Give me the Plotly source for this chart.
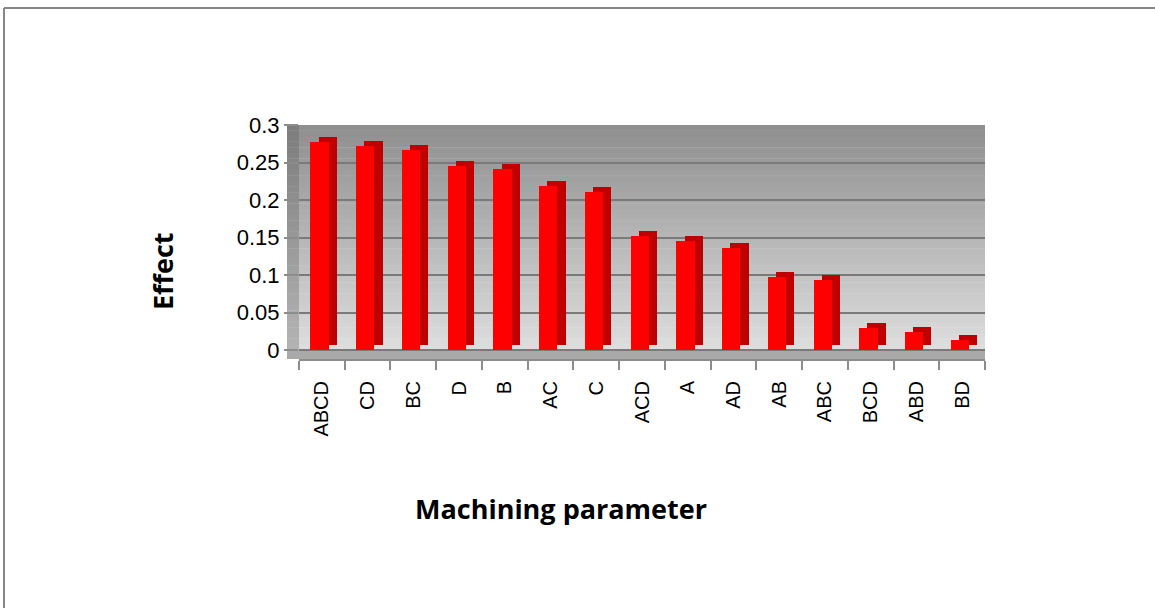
import plotly.graph_objects as go

# ---------------- data ----------------
categories = ["ABCD", "CD", "BC", "D", "B", "AC", "C", "ACD", "A", "AD",
              "AB", "ABC", "BCD", "ABD", "BD"]
effects = [0.277, 0.272, 0.267, 0.246, 0.241, 0.219, 0.211, 0.152, 0.146,
           0.136, 0.097, 0.094, 0.029, 0.024, 0.013]
y_tick_vals = [0, 0.05, 0.1, 0.15, 0.2, 0.25, 0.3]
y_tick_text = ["0", "0.05", "0.1", "0.15", "0.2", "0.25", "0.3"]
x_title = "Machining parameter"
y_title = "Effect"

# ---------------- layout geometry (pixels) ----------------
W, H = 1155, 608
L, R = 299, 985          # plot area left/right
T, B = 125, 359          # plot area top/bottom
Y_MIN, Y_MAX = -0.012, 0.3
PX_PER_UNIT = (B - T) / (Y_MAX - Y_MIN)
DEPTH = 5 / PX_PER_UNIT  # vertical depth of the pseudo-3D top face


def px_x(px):
    return (px - L) / (R - L)


def px_y(py):
    return (B - py) / (B - T)


def hexmix(c1, c2, t):
    a = [int(c1[i:i + 2], 16) for i in (1, 3, 5)]
    b = [int(c2[i:i + 2], 16) for i in (1, 3, 5)]
    return "#" + "".join(f"{round(a[k] + (b[k] - a[k]) * t):02x}" for k in range(3))


fig = go.Figure()

# side (depth) of the bars
fig.add_trace(go.Bar(
    x=categories, y=effects, base=DEPTH,
    offset=-0.07, width=0.4,
    marker=dict(color="#c00000", line=dict(width=0)),
    hoverinfo="skip", showlegend=False,
))
# front face of the bars
fig.add_trace(go.Bar(
    x=categories, y=effects,
    offset=-0.25, width=0.4,
    marker=dict(color="#ff0000", line=dict(width=0)),
    name=y_title, showlegend=False,
))

shapes = []
# back wall gradient (light at bottom, darker at top)
N = 40
for k in range(N):
    y0 = Y_MAX * k / N
    y1 = Y_MAX * (k + 1) / N
    shapes.append(dict(type="rect", xref="paper", yref="y", layer="below",
                       x0=0, x1=1, y0=y0, y1=y1 + 0.0005,
                       fillcolor=hexmix("#dedede", "#8e8e8e", (k + 0.5) / N),
                       line=dict(width=0)))
# left side wall
for k in range(N):
    y0 = Y_MAX * k / N
    y1 = Y_MAX * (k + 1) / N
    shapes.append(dict(type="rect", xref="paper", yref="y", layer="below",
                       x0=px_x(L - 12), x1=0, y0=y0, y1=y1 + 0.0005,
                       fillcolor=hexmix("#b4b4b4", "#7c7c7c", (k + 0.5) / N),
                       line=dict(width=0)))
# floor
shapes.append(dict(type="rect", xref="paper", yref="y", layer="below",
                   x0=px_x(L - 12), x1=1, y0=Y_MIN, y1=0,
                   fillcolor="#a9a9a9", line=dict(width=0)))
# outer chart border (top and left edges)
shapes.append(dict(type="line", xref="paper", yref="paper",
                   x0=px_x(4), x1=px_x(W + 5), y0=px_y(8), y1=px_y(8),
                   line=dict(color="#878787", width=2)))
shapes.append(dict(type="line", xref="paper", yref="paper",
                   x0=px_x(4), x1=px_x(4), y0=px_y(8), y1=px_y(H + 5),
                   line=dict(color="#878787", width=2)))

title_font = dict(family="Open Sans, Lato, sans-serif", size=27, color="#000000")
annotations = [
    dict(text=f"<b>{x_title}</b>", xref="paper", yref="paper",
         x=px_x(561), y=px_y(508), showarrow=False, font=title_font,
         xanchor="center", yanchor="middle"),
    dict(text=f"<b>{y_title}</b>", xref="paper", yref="paper",
         x=px_x(162), y=px_y(271), showarrow=False, textangle=-90,
         font=title_font, xanchor="center", yanchor="middle"),
]

fig.update_layout(
    width=W, height=H, autosize=False,
    margin=dict(l=L, r=W - R, t=T, b=H - B, pad=0, autoexpand=False),
    paper_bgcolor="#ffffff", plot_bgcolor="#ffffff",
    barmode="overlay", bargap=0,
    shapes=shapes, annotations=annotations,
    font=dict(family="Liberation Sans, Arial, sans-serif", color="#000000"),
    xaxis=dict(
        type="category", categoryorder="array", categoryarray=categories,
        tickangle=-90, tickfont=dict(size=20, color="#000000"),
        ticks="outside", tickson="boundaries", ticklen=9, tickwidth=2,
        ticklabelstandoff=12,
        tickcolor="#8c8c8c", showline=True, linecolor="#8c8c8c", linewidth=2,
        showgrid=False, zeroline=False, fixedrange=True,
    ),
    yaxis=dict(
        range=[Y_MIN, Y_MAX], tickvals=y_tick_vals, ticktext=y_tick_text,
        tickfont=dict(size=22, color="#000000"),
        ticks="outside", ticklen=14, tickwidth=2, tickcolor="#8c8c8c",
        showgrid=True, gridcolor="#7a7a7a", gridwidth=2,
        zeroline=False, showline=False, fixedrange=True,
    ),
)

fig.write_html("out.html",
               config={"displayModeBar": False, "staticPlot": True},
               post_script="document.body.style.margin='0';"
                           "document.body.style.overflow='hidden';")
